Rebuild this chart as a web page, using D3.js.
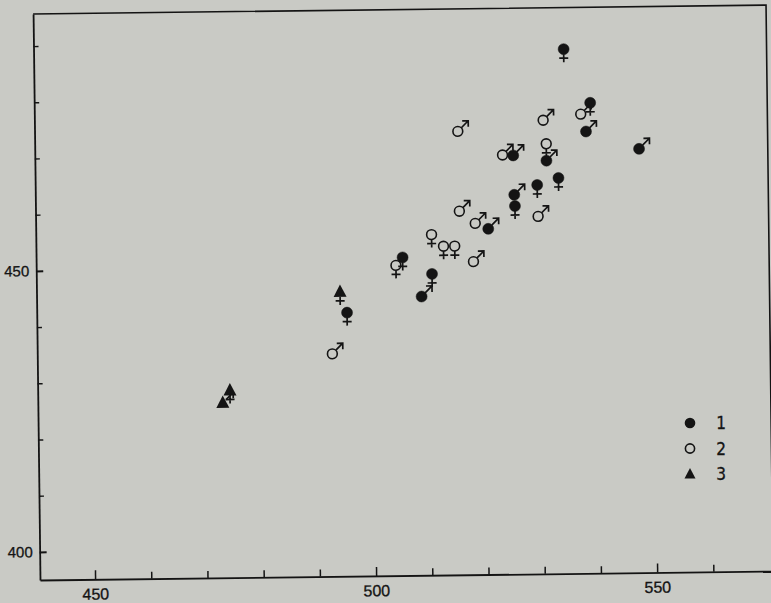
<!DOCTYPE html>
<html>
<head>
<meta charset="utf-8">
<script src="https://cdn.jsdelivr.net/npm/d3@7"></script>
<style>
  html, body { margin: 0; padding: 0; background: #c9cac5; }
  svg { display: block; font-family: "DejaVu Sans Condensed", "DejaVu Sans", sans-serif; }
  .axis path, .axis line { stroke: #141414; }
  .axis text { fill: #141414; }
</style>
</head>
<body>
<div id="chart"></div>
<script>
// [x, y, sex]  f = female, m = male
const group1 = [
  [534.5, 488.3, "f"], [539.1, 478.7, "f"], [538.3, 473.6, "m"], [547.7, 470.4, "m"],
  [525.3, 469.5, "m"], [531.2, 468.5, "m"], [533.3, 465.4, "f"], [529.5, 464.2, "f"],
  [525.4, 462.5, "m"], [525.5, 460.5, "f"], [520.7, 456.5, "m"], [505.4, 451.6, "f"],
  [510.6, 448.6, "f"], [508.7, 444.6, "m"], [495.4, 441.9, "f"]
];
const group2 = [
  [515.5, 473.9, "m"], [530.7, 475.7, "m"], [537.4, 476.7, "m"], [531.2, 471.5, "f"],
  [523.4, 469.6, "m"], [515.6, 459.7, "m"], [518.4, 457.5, "m"], [529.6, 458.6, "m"],
  [510.6, 455.6, "f"], [512.7, 453.5, "f"], [514.7, 453.5, "f"], [518.0, 450.7, "m"],
  [504.2, 450.2, "f"], [492.7, 434.6, "m"]
];
const group3 = [
  [494.2, 445.6, "f"], [474.4, 428.3, "f"], [473.1, 426.1, "m"]
];
const xTicks = [450, 460, 470, 480, 490, 500, 510, 520, 530, 540, 550, 560];
const xLabels = [450, 500, 550];
const yTicks = [400, 410, 420, 430, 440, 450, 460, 470, 480, 490];
const yLabels = [400, 450];
const legendKeys = ["1", "2", "3"];

const W = 771, H = 603;
const margin = { left: 40, top: 14 };
const pw = 733, ph = 566;
const ink = "#141414";

const svg = d3.select("#chart").append("svg")
    .attr("width", W).attr("height", H);

// the scan is turned a little, so the whole plot is turned with it
const g = svg.append("g")
    .attr("transform", `rotate(-0.7, ${margin.left}, ${margin.top + ph}) translate(${margin.left}, ${margin.top})`);

const x = d3.scaleLinear().domain([440.2, 570.6]).range([0, pw]);
const y = d3.scaleLinear().domain([395.0, 495.7]).range([ph, 0]);

// frame: top and right
g.append("path")
    .attr("d", `M0,0H${pw}V${ph}`)
    .attr("fill", "none").attr("stroke", ink).attr("stroke-width", 1.6);

const xAxis = g.append("g").attr("class", "axis")
    .attr("transform", `translate(0, ${ph})`)
    .call(d3.axisBottom(x).tickValues(xTicks).tickSizeInner(-7).tickSizeOuter(0).tickPadding(9)
        .tickFormat(d => xLabels.includes(d) ? d : ""));
xAxis.select(".domain").attr("stroke-width", 1.8);
xAxis.selectAll(".tick line").attr("stroke-width", 1.5)
    .attr("y2", d => xLabels.includes(d) ? -9 : -7);
xAxis.selectAll("text").attr("font-size", 16).attr("stroke", ink).attr("stroke-width", 0.3);

const yAxis = g.append("g").attr("class", "axis")
    .call(d3.axisLeft(y).tickValues(yTicks).tickSizeInner(-5).tickSizeOuter(0).tickPadding(7)
        .tickFormat(d => yLabels.includes(d) ? d : ""));
yAxis.select(".domain").attr("stroke-width", 1.8);
yAxis.selectAll(".tick line")
    .attr("stroke-width", d => yLabels.includes(d) ? 2 : 1.4)
    .attr("x2", d => yLabels.includes(d) ? 7 : 5);
yAxis.selectAll("text").attr("font-size", 15).attr("stroke", ink).attr("stroke-width", 0.3);

function sexMark(s, sex, below) {
  s.attr("stroke", ink).attr("stroke-width", 1.7).attr("fill", "none");
  if (sex === "f") {
    s.append("path").attr("d", `M0,${below}V${below + 8}M-4.5,${below + 4}H4.5`);
  } else {
    const a = 3.6, t = 10.5;
    s.append("path").attr("d", `M${a},${-a}L${t},${-t}M${t - 6},${-t}H${t}V${-t + 6}`);
  }
}

function plotGroup(data, kind) {
  const pts = g.append("g").selectAll("g")
      .data(data).join("g")
      .attr("transform", d => `translate(${x(d[0])}, ${y(d[1])})`);
  pts.each(function (d) {
    const p = d3.select(this);
    if (kind === 3) {
      p.append("path").attr("d", "M0,-7.5L6.5,5L-6.5,5Z").attr("fill", ink);
      sexMark(p.append("g"), d[2], 5);
    } else {
      sexMark(p.append("g"), d[2], 5);
      p.append("circle").attr("r", kind === 1 ? 5.5 : 4.9)
          .attr("fill", kind === 1 ? ink : "none")
          .attr("stroke", ink).attr("stroke-width", kind === 1 ? 0.5 : 1.6);
    }
  });
}
plotGroup(group1, 1);
plotGroup(group2, 2);
plotGroup(group3, 3);

// legend
const lg = svg.append("g").attr("transform", "translate(690, 423)");
legendKeys.forEach((k, i) => {
  const row = lg.append("g").attr("transform", `translate(0, ${i * 25.5})`);
  if (i === 0) row.append("circle").attr("r", 5.3).attr("fill", ink);
  if (i === 1) row.append("circle").attr("r", 4.6).attr("fill", "none").attr("stroke", ink).attr("stroke-width", 1.6);
  if (i === 2) row.append("path").attr("d", "M0,-6L5.5,4.5L-5.5,4.5Z").attr("fill", ink);
  row.append("text").attr("x", 31).attr("dy", "0.36em").attr("text-anchor", "middle")
      .attr("font-size", 17).attr("fill", ink).attr("stroke", ink).attr("stroke-width", 0.3).text(k);
});
</script>
</body>
</html>
